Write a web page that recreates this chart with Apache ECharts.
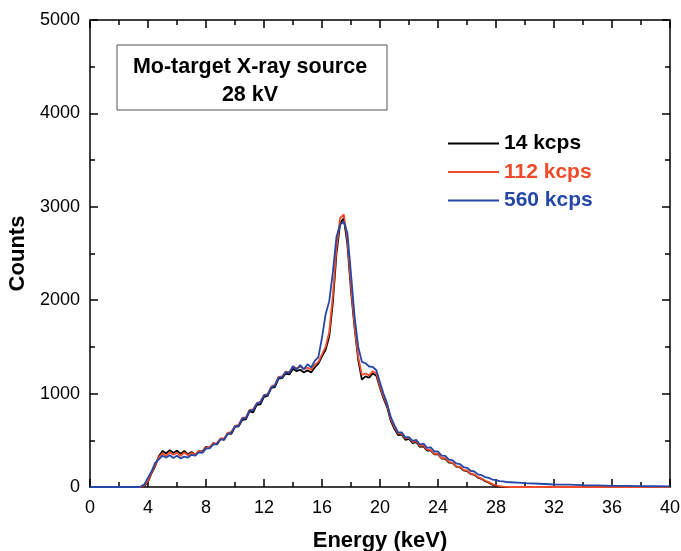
<!DOCTYPE html>
<html>
<head>
<meta charset="utf-8">
<script src="https://cdn.jsdelivr.net/npm/echarts@6/dist/echarts.min.js"></script>
<style>
html,body{margin:0;padding:0;background:#fff;}
#chart{width:681px;height:551px;}
</style>
</head>
<body>
<div id="chart"></div>
<script>
// energy grid (keV)
const energy = [0, 1, 2, 2.5, 3, 3.25,
    3.5, 3.75, 4, 4.25, 4.5, 4.75, 5, 5.25, 5.5, 5.75, 6, 6.25, 6.5, 6.75, 7, 7.25, 7.5, 7.75,
    8, 8.25, 8.5, 8.75, 9, 9.25, 9.5, 9.75, 10, 10.25, 10.5, 10.75, 11, 11.25, 11.5, 11.75,
    12, 12.25, 12.5, 12.75, 13, 13.25, 13.5, 13.75, 14, 14.25, 14.5, 14.75, 15, 15.25, 15.5, 15.75,
    16, 16.25, 16.5, 16.75, 17, 17.25, 17.5, 17.75, 18, 18.25, 18.5, 18.75, 19, 19.25, 19.5, 19.75,
    20, 20.25, 20.5, 20.75, 21, 21.25, 21.5, 21.75, 22, 22.25, 22.5, 22.75, 23, 23.25, 23.5, 23.75,
    24, 24.25, 24.5, 24.75, 25, 25.25, 25.5, 25.75, 26, 26.25, 26.5, 26.75, 27, 27.25, 27.5, 27.75,
    28, 28.25, 28.5, 28.75, 29,
    29.5, 30, 31, 32, 33, 34, 35, 36, 37, 38, 39, 40];

const counts14 = [0, 0, 0, 0, 0, 0,
    0, 12, 55, 150, 225, 330, 385, 360, 395, 365, 390, 355, 385, 350, 375, 345, 385, 380,
    430, 415, 470, 455, 515, 505, 575, 570, 645, 650, 720, 725, 810, 800, 880, 885,
    965, 975, 1060, 1070, 1160, 1165, 1215, 1205, 1265, 1240, 1255, 1225, 1250, 1225, 1280, 1320,
    1400, 1470, 1610, 1980, 2500, 2820, 2880, 2600, 2100, 1700, 1360, 1150, 1185, 1170, 1215, 1190,
    1060, 945, 850, 705, 620, 555, 560, 505, 515, 470, 480, 430, 435, 390, 390, 350,
    350, 305, 300, 260, 258, 218, 212, 178, 170, 140, 130, 100, 88, 62, 47, 24,
    10, 3, 0, 0, 0,
    0, 0, 0, 0, 0, 0, 0, 0, 0, 0, 0, 0];

const counts112 = [0, 0, 0, 0, 0, 0,
    0, 18, 65, 160, 235, 320, 360, 335, 370, 345, 365, 330, 370, 340, 365, 350, 385, 375,
    420, 430, 465, 470, 520, 520, 580, 590, 655, 665, 740, 745, 825, 830, 895, 915,
    985, 995, 1075, 1095, 1180, 1185, 1235, 1230, 1290, 1270, 1290, 1260, 1280, 1255, 1310, 1340,
    1420, 1500, 1660, 2050, 2560, 2880, 2920, 2650, 2150, 1720, 1390, 1200, 1215, 1195, 1240, 1215,
    1080, 965, 870, 725, 640, 575, 570, 520, 525, 480, 490, 440, 445, 400, 395, 355,
    355, 310, 308, 268, 262, 222, 216, 184, 176, 144, 134, 106, 92, 67, 52, 30,
    18, 8, 4, 2, 0,
    0, 0, 0, 0, 0, 0, 0, 0, 0, 0, 0, 0];

const counts560 = [0, 0, 0, 0, 0, 0,
    5, 28, 100, 170, 260, 295, 335, 315, 340, 310, 335, 305, 325, 315, 345, 335, 370, 365,
    410, 415, 455, 460, 510, 510, 570, 580, 650, 655, 735, 735, 820, 820, 895, 905,
    980, 985, 1065, 1085, 1170, 1175, 1230, 1225, 1295, 1255, 1305, 1260, 1315, 1280, 1350, 1390,
    1600, 1850, 1990, 2300, 2680, 2810, 2840, 2720, 2280, 1820, 1500, 1340, 1325, 1290, 1285, 1250,
    1120, 995, 890, 745, 660, 585, 585, 530, 535, 495, 505, 455, 465, 420, 425, 380,
    380, 335, 333, 292, 288, 252, 246, 214, 206, 174, 166, 136, 128, 106, 98, 80,
    74, 62, 60, 52, 51,
    47, 41, 35, 27, 25, 19, 18, 13, 12, 9, 8, 7];

const seriesNames = ['14 kcps', '112 kcps', '560 kcps'];
const seriesColors = ['#000000', '#f04a28', '#2547a8'];
const seriesData = [counts14, counts112, counts560];

let chart = echarts.init(document.getElementById('chart'));

function pairs(ys){
    return energy.map((e, i) => [e, ys[i]]);
}

const fontFam = '"Liberation Sans", Arial, sans-serif';

function axisStyle(){
    return {
        axisLine: {show: true, onZero: false, lineStyle: {color: '#000', width: 1.5}},
        axisTick: {show: true, inside: true, length: 8, lineStyle: {color: '#000', width: 1.5}},
        minorTick: {show: true, splitNumber: 2, length: 5, lineStyle: {color: '#000', width: 1.5}},
        splitLine: {show: false},
        minorSplitLine: {show: false}
    };
}

let option = {
    animation: false,
    backgroundColor: '#fff',
    grid: {left: 90, right: 11, top: 20, bottom: 64, containLabel: false, outerBoundsMode: 'none'},
    legend: {
        orient: 'vertical',
        left: 443,
        top: 128,
        itemWidth: 51,
        itemHeight: 2,
        itemGap: 7.5,
        icon: 'rect',
        textStyle: {fontFamily: fontFam, fontSize: 21, fontWeight: 'bold'},
        data: seriesNames.map((n, i) => ({name: n, textStyle: {color: seriesColors[i]}}))
    },
    xAxis: [
        Object.assign({
            type: 'value', min: 0, max: 40, interval: 4, position: 'bottom',
            name: 'Energy (keV)', nameLocation: 'middle', nameGap: 43,
            nameTextStyle: {fontFamily: fontFam, fontSize: 22, fontWeight: 'bold', color: '#000'},
            axisLabel: {fontFamily: fontFam, fontSize: 18, color: '#000', margin: 12, formatter: v => String(v)}
        }, axisStyle()),
        Object.assign({
            type: 'value', min: 0, max: 40, interval: 4, position: 'top',
            axisLabel: {show: false}
        }, axisStyle())
    ],
    yAxis: [
        Object.assign({
            type: 'value', min: 0, max: 5000, interval: 1000, position: 'left',
            name: 'Counts', nameLocation: 'middle', nameGap: 55,
            nameTextStyle: {fontFamily: fontFam, fontSize: 22, fontWeight: 'bold', color: '#000'},
            axisLabel: {fontFamily: fontFam, fontSize: 18, color: '#000', margin: 10, formatter: v => String(v)}
        }, axisStyle()),
        Object.assign({
            type: 'value', min: 0, max: 5000, interval: 1000, position: 'right',
            axisLabel: {show: false}
        }, axisStyle())
    ],
    graphic: [
        {
            type: 'rect',
            shape: {x: 117, y: 45, width: 270, height: 65},
            style: {fill: '#fff', stroke: '#555', lineWidth: 1},
            z: 10
        },
        {
            type: 'text', x: 250, y: 67, z: 11,
            style: {text: 'Mo-target X-ray source', fontFamily: fontFam, fontSize: 21.5, fontWeight: 'bold',
                fill: '#000', align: 'center', verticalAlign: 'middle'}
        },
        {
            type: 'text', x: 250, y: 95, z: 11,
            style: {text: '28 kV', fontFamily: fontFam, fontSize: 21.5, fontWeight: 'bold',
                fill: '#000', align: 'center', verticalAlign: 'middle'}
        }
    ],
    series: seriesNames.map((n, i) => ({
        name: n,
        type: 'line',
        xAxisIndex: 0,
        yAxisIndex: 0,
        showSymbol: false,
        symbol: 'none',
        color: seriesColors[i],
        lineStyle: {width: 1.8, color: seriesColors[i]},
        data: pairs(seriesData[i])
    }))
};

chart.setOption(option);
</script>
</body>
</html>
